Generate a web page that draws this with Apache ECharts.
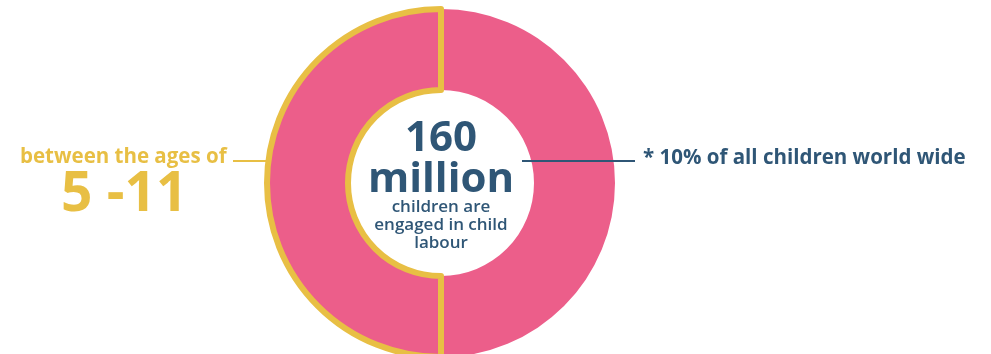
<!DOCTYPE html>
<html>
<head>
<meta charset="utf-8">
<script src="https://cdn.jsdelivr.net/npm/echarts@6/dist/echarts.min.js"></script>
<style>
  html, body { margin: 0; padding: 0; background: #fff; }
  #chart { width: 991px; height: 354px; }
</style>
</head>
<body>
<div id="chart"></div>
<script>
// data
var sliceNames = ['10% of all children world wide', 'between the ages of 5 -11'];
var sliceValues = [50, 50];
var centerBig = ['160', 'million'];
var centerSmall = ['children are', 'engaged in child', 'labour'];
var leftLabel = ['between the ages of', '5 -11'];
var rightLabel = ['* 10% of all children world wide'];

var pink = '#EC5E8A';
var yellow = '#E8BF44';
var navy = '#2F5676';
var font = '"Open Sans"';

var cx = 441, cy = 183;

var myChart = echarts.init(document.getElementById('chart'));

myChart.setOption({
    backgroundColor: '#fff',
    animation: false,
    series: [{
        type: 'pie',
        center: [cx, cy],
        radius: [93, 174],
        startAngle: 90,
        clockwise: true,
        label: { show: false },
        labelLine: { show: false },
        data: [
            { name: sliceNames[0], value: sliceValues[0], itemStyle: { color: pink } },
            { name: sliceNames[1], value: sliceValues[1], itemStyle: { color: pink, borderColor: yellow, borderWidth: 6 } }
        ]
    }],
    graphic: [
        // left annotation
        { type: 'line', z: 100, shape: { x1: 233, y1: 161, x2: 268, y2: 161 }, style: { stroke: yellow, lineWidth: 2 } },
        { type: 'text', z: 100, left: 20, top: 147, style: { text: leftLabel[0], fill: yellow, font: 'bold 20.5px ' + font } },
        { type: 'text', z: 100, left: 61, top: 168, style: { text: leftLabel[1], fill: yellow, font: 'bold 55px ' + font } },
        // right annotation
        { type: 'line', z: 100, shape: { x1: 522, y1: 161, x2: 635, y2: 161 }, style: { stroke: navy, lineWidth: 2 } },
        { type: 'text', z: 100, left: 643, top: 148, style: { text: rightLabel[0], fill: navy, font: 'bold 20.5px ' + font } },
        // center text
        { type: 'text', z: 100, x: cx, y: 119, style: { text: centerBig.join('\n'), fill: navy, font: 'bold 42px ' + font, align: 'center', lineHeight: 41 } },
        { type: 'text', z: 100, x: cx, y: 198, style: { text: centerSmall.join('\n'), fill: navy, font: '600 17px ' + font, align: 'center', lineHeight: 18 } }
    ]
});
</script>
</body>
</html>
